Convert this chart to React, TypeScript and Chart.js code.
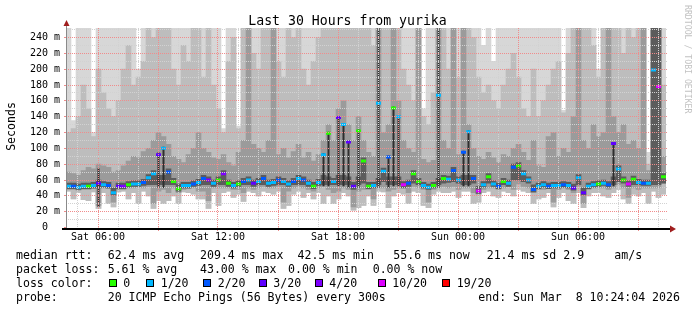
import React, { useEffect, useRef } from 'react';
import { Chart, registerables } from 'chart.js';

Chart.register(...registerables);

// ---------------- data (hours counted from Sat 00:00, 15-minute slots) ----------------
const slotStartHour = 4.4;
const slotHours = 0.25;

const medianRtt = [
  52, 52, 51, 52, 52, 53, 56, 54, 53, 44,
  52, 52, 54, 55, 55, 57, 63, 68, 92, 100,
  70, 58, 49, 53, 53, 55, 57, 62, 60, 56,
  60, 68, 56, 53, 55, 58, 60, 56, 58, 62,
  56, 57, 60, 58, 55, 58, 62, 60, 56, 52,
  57, 92, 119, 58, 139, 130, 108, 52, 122, 84,
  52, 53, 157, 71, 89, 151, 140, 54, 56, 68,
  58, 53, 51, 53, 167, 62, 61, 72, 60, 95,
  121, 62, 46, 54, 64, 55, 52, 58, 56, 76,
  78, 68, 60, 48, 52, 54, 52, 53, 53, 54,
  53, 50, 63, 44, 52, 54, 55, 56, 54, 106,
  74, 60, 55, 61, 57, 56, 56, 199, 178, 64,
];

// index into lossColors / lossLabels
const lossIdx = [
  1, 2, 1, 1, 0, 1, 3, 1, 2, 1,
  3, 4, 0, 1, 1, 2, 1, 1, 3, 1,
  2, 0, 0, 1, 1, 2, 1, 2, 4, 1,
  0, 4, 0, 1, 0, 2, 1, 3, 1, 2,
  1, 1, 2, 1, 1, 2, 1, 2, 1, 0,
  1, 1, 0, 1, 3, 1, 3, 3, 0, 0,
  0, 1, 1, 1, 2, 0, 1, 5, 2, 0,
  0, 1, 1, 0, 1, 0, 1, 2, 1, 2,
  1, 2, 5, 1, 0, 1, 2, 0, 1, 2,
  0, 1, 1, 2, 1, 1, 2, 1, 1, 2,
  1, 3, 1, 3, 1, 1, 0, 1, 2, 3,
  1, 0, 5, 0, 1, 2, 1, 1, 5, 0,
];

// smoke: slowest ping of each slot (260 = above the top of the graph)
const smokeMax = [
  260, 135, 260, 260, 260, 120, 260, 260, 260, 260,
  260, 260, 260, 260, 200, 260, 260, 260, 260, 260,
  260, 260, 260, 260, 260, 260, 260, 260, 260, 260,
  260, 125, 260, 260, 128, 260, 260, 260, 260, 260,
  260, 260, 260, 260, 260, 260, 260, 260, 260, 260,
  260, 260, 260, 260, 260, 260, 260, 260, 260, 260,
  260, 260, 260, 260, 260, 260, 260, 260, 260, 260,
  260, 150, 260, 260, 260, 260, 260, 260, 260, 260,
  260, 260, 260, 230, 260, 210, 260, 260, 260, 260,
  260, 260, 260, 260, 260, 260, 260, 260, 260, 148,
  260, 260, 260, 260, 260, 260, 200, 260, 260, 260,
  260, 260, 260, 260, 260, 260, 95, 260, 260, 260,
];

const smokeUpper2 = [
  120, 125, 140, 180, 150, 115, 200, 170, 150, 140,
  160, 200, 230, 180, 190, 210, 260, 240, 260, 260,
  260, 200, 180, 230, 210, 260, 260, 190, 260, 180,
  150, 120, 210, 240, 125, 260, 260, 220, 200, 260,
  260, 260, 210, 190, 260, 240, 260, 200, 180, 210,
  240, 260, 260, 260, 260, 260, 260, 260, 260, 260,
  260, 230, 260, 260, 260, 260, 260, 200, 180, 160,
  260, 140, 130, 170, 260, 260, 200, 260, 190, 260,
  260, 240, 190, 170, 180, 160, 150, 180, 200, 220,
  190, 150, 140, 200, 140, 160, 180, 200, 210, 145,
  220, 260, 260, 260, 260, 230, 190, 260, 260, 260,
  260, 220, 260, 240, 260, 260, 80, 260, 260, 180,
];

const smokeUpper3 = [
  70, 68, 66, 72, 76, 74, 80, 78, 76, 70,
  72, 78, 84, 90, 88, 96, 100, 110, 120, 115,
  105, 90, 86, 82, 92, 100, 120, 100, 95, 88,
  86, 92, 82, 78, 95, 110, 260, 105, 100, 95,
  110, 260, 92, 100, 88, 96, 105, 88, 95, 84,
  92, 110, 130, 110, 150, 160, 130, 110, 140, 110,
  95, 90, 260, 120, 130, 260, 160, 110, 100, 95,
  260, 86, 82, 85, 260, 110, 100, 260, 92, 260,
  130, 100, 90, 86, 95, 88, 82, 92, 90, 100,
  105, 95, 85, 110, 78, 76, 115, 120, 90, 100,
  95, 140, 260, 110, 100, 130, 115, 120, 260, 140,
  120, 130, 105, 110, 100, 260, 72, 260, 260, 90,
];

// lower edge of the darker smoke (tails under the median)
const smokeLow3 = [
  48, 48, 47, 48, 48, 49, 28, 50, 49, 32,
  48, 48, 50, 50, 51, 50, 52, 30, 46, 48,
  44, 50, 44, 48, 49, 50, 46, 46, 34, 50,
  50, 50, 50, 48, 48, 44, 50, 48, 50, 52,
  50, 50, 52, 32, 46, 50, 52, 50, 48, 46,
  50, 52, 48, 44, 46, 50, 48, 26, 46, 48,
  48, 36, 50, 50, 46, 48, 50, 50, 44, 52,
  50, 48, 32, 48, 50, 52, 50, 52, 48, 50,
  50, 44, 42, 48, 50, 50, 48, 50, 52, 48,
  55, 52, 50, 44, 48, 48, 50, 32, 48, 50,
  48, 44, 52, 30, 48, 50, 50, 50, 48, 50,
  54, 50, 38, 50, 48, 50, 50, 50, 50, 56,
];

// fastest ping of each slot
const smokeMin = [
  46, 36, 44, 35, 34, 45, 24, 44, 30, 26,
  45, 46, 36, 44, 30, 46, 40, 24, 34, 30,
  34, 40, 30, 45, 44, 42, 36, 36, 24, 44,
  28, 44, 46, 38, 42, 33, 46, 44, 40, 46,
  44, 42, 46, 24, 28, 42, 46, 38, 44, 36,
  44, 30, 40, 30, 36, 44, 40, 22, 25, 28,
  40, 28, 46, 45, 25, 40, 44, 42, 30, 46,
  44, 28, 25, 42, 46, 44, 44, 46, 38, 46,
  46, 30, 32, 44, 46, 40, 38, 46, 44, 40,
  48, 46, 44, 30, 36, 38, 44, 26, 38, 44,
  34, 30, 44, 25, 40, 44, 44, 40, 38, 44,
  48, 36, 30, 42, 40, 44, 30, 46, 38, 42,
];

// dark core hugging the median
const smokeCore = [
  56, 56, 55, 56, 56, 57, 60, 58, 57, 50,
  56, 56, 58, 59, 59, 61, 67, 72, 66, 66,
  74, 62, 55, 57, 57, 59, 61, 66, 64, 60,
  64, 72, 60, 57, 59, 62, 64, 60, 62, 66,
  60, 61, 64, 62, 59, 62, 66, 64, 60, 57,
  61, 66, 64, 62, 66, 66, 64, 57, 64, 88,
  57, 57, 62, 75, 64, 64, 64, 58, 60, 72,
  62, 57, 55, 57, 62, 66, 65, 76, 64, 66,
  66, 66, 52, 58, 68, 59, 56, 62, 60, 80,
  82, 72, 64, 54, 56, 58, 56, 57, 57, 58,
  57, 55, 67, 50, 56, 58, 59, 60, 58, 64,
  78, 64, 59, 65, 61, 60, 60, 260, 260, 68,
];

const smokeCoreLow = [
  49, 49, 48, 49, 49, 50, 50, 51, 50, 41,
  49, 49, 51, 52, 52, 53, 54, 54, 54, 54,
  54, 54, 46, 50, 50, 52, 53, 54, 54, 52,
  54, 54, 52, 50, 52, 54, 54, 52, 54, 54,
  52, 53, 54, 54, 52, 54, 54, 54, 52, 49,
  53, 54, 54, 54, 54, 54, 54, 48, 54, 56,
  49, 50, 54, 58, 54, 54, 54, 50, 52, 56,
  54, 50, 48, 50, 54, 56, 57, 58, 56, 54,
  54, 56, 43, 51, 56, 52, 49, 54, 52, 60,
  60, 58, 56, 45, 49, 51, 49, 50, 50, 51,
  50, 47, 54, 41, 49, 51, 52, 53, 51, 54,
  58, 56, 52, 54, 54, 53, 53, 54, 54, 56,
];

// thin dark spikes up to high medians
const spikeSlots = [6, 18, 19, 51, 52, 54, 55, 56, 58, 62, 64, 65, 66, 74, 79, 80, 109];
const spikeTop = [75, 95, 102, 94, 121, 141, 132, 110, 124, 260, 91, 153, 141, 260, 97, 123, 108];
const spikeBottom = [26, 50, 50, 52, 52, 52, 52, 50, 50, 50, 50, 52, 52, 50, 52, 52, 52];

const lossColors = ['#26ff00', '#00b8ff', '#0059ff', '#5e00ff', '#7e00ff', '#dd00ff', '#ff0000'];
const lossLabels = ['0', '1/20', '2/20', '3/20', '4/20', '10/20', '19/20'];

const xTickHours = [6, 12, 18, 24, 30];
const xTickLabels = ['Sat 06:00', 'Sat 12:00', 'Sat 18:00', 'Sun 00:00', 'Sun 06:00'];
const yTickValues = [0, 20, 40, 60, 80, 100, 120, 140, 160, 180, 200, 220, 240];
const yTickLabels = ['0  ', '20 m', '40 m', '60 m', '80 m', '100 m', '120 m', '140 m', '160 m', '180 m', '200 m', '220 m', '240 m'];

const titleText = 'Last 30 Hours from yurika';
const yTitle = 'Seconds';
const watermark = 'RRDTOOL / TOBI OETIKER';
const rttHead = 'median rtt:';
const rttStats = ['62.4 ms avg', '209.4 ms max', '42.5 ms min', '55.6 ms now', '21.4 ms sd', '2.9', 'am/s'];
const lossHead = 'packet loss:';
const lossStats = ['5.61 % avg', '43.00 % max', '0.00 % min', '0.00 % now'];
const colorHead = 'loss color:';
const probeHead = 'probe:';
const probeText = '20 ICMP Echo Pings (56 Bytes) every 300s';
const endText = 'end: Sun Mar  8 10:24:04 2026';

// ---------------- layout / style ----------------
const FONT = '"DejaVu Sans Mono", monospace';
const W = 697;
const H = 310;
const rttStatX = [107.7, 200, 297.5, 393.3, 486.7, 563.3, 614.3];
const lossStatX = [107.7, 200, 288, 372.7];
const swatchX = [109, 146, 203, 259, 315, 378, 442];
const swatchLabelX = [123.3, 160.7, 217.7, 273.3, 329.3, 392.3, 456.7];
const rowBase = [259.3, 273.0, 286.8, 300.6];
const MAJOR = 'rgb(240, 140, 140)';
const MINOR = 'rgb(210, 210, 210)';

const decorPlugin = {
  id: 'rrdDecor',
  afterDatasetsDraw(chart: any) {
    const { ctx, chartArea: a } = chart;
    const xs = chart.scales.x;
    const ys = chart.scales.y;
    ctx.save();
    ctx.lineWidth = 1;
    ctx.setLineDash([1, 1]);
    xs.ticks.forEach((t: any) => {
      const p = Math.floor(xs.getPixelForValue(t.value)) + 0.5;
      ctx.strokeStyle = t.value % 3 === 0 ? MAJOR : MINOR;
      ctx.beginPath();
      ctx.moveTo(p, a.top);
      ctx.lineTo(p, a.bottom);
      ctx.stroke();
    });
    ys.ticks.forEach((t: any) => {
      if (t.value === 0) return;
      const p = Math.floor(ys.getPixelForValue(t.value)) + 0.5;
      ctx.strokeStyle = t.value % 20 === 0 ? MAJOR : MINOR;
      ctx.beginPath();
      ctx.moveTo(a.left, p);
      ctx.lineTo(a.right + 2, p);
      ctx.stroke();
    });
    ctx.setLineDash([]);
    ctx.strokeStyle = MAJOR;
    xs.ticks.forEach((t: any) => {
      if (t.value % 3 !== 0) return;
      const p = Math.floor(xs.getPixelForValue(t.value)) + 0.5;
      ctx.beginPath();
      ctx.moveTo(p, a.bottom);
      ctx.lineTo(p, a.bottom + 3.5);
      ctx.stroke();
    });
    ys.ticks.forEach((t: any) => {
      if (t.value % 20 !== 0) return;
      const p = Math.floor(ys.getPixelForValue(t.value)) + 0.5;
      ctx.beginPath();
      ctx.moveTo(a.left - 2, p);
      ctx.lineTo(a.left, p);
      ctx.stroke();
    });
    ctx.fillStyle = '#8a8a8a';
    ctx.fillRect(a.left, a.top - 4, 1, a.bottom - a.top + 5);
    ctx.fillStyle = '#000';
    ctx.fillRect(a.left - 4, Math.round(a.bottom), a.right - a.left + 8, 2);
    ctx.fillStyle = '#a01e1e';
    ctx.beginPath();
    ctx.moveTo(a.left + 0.5, a.top - 8);
    ctx.lineTo(a.left - 2.5, a.top - 2);
    ctx.lineTo(a.left + 3.5, a.top - 2);
    ctx.closePath();
    ctx.fill();
    const by = Math.round(a.bottom) + 1;
    ctx.beginPath();
    ctx.moveTo(a.right + 10, by);
    ctx.lineTo(a.right + 4, by - 3.5);
    ctx.lineTo(a.right + 4, by + 3.5);
    ctx.closePath();
    ctx.fill();
    ctx.restore();
  },
  afterDraw(chart: any) {
    const { ctx } = chart;
    ctx.save();
    ctx.fillStyle = '#000';
    ctx.textBaseline = 'alphabetic';
    ctx.font = `13.2px ${FONT}`;
    ctx.textAlign = 'center';
    ctx.fillText(titleText, 347.5, 24.5);
    ctx.font = `11.55px ${FONT}`;
    ctx.save();
    ctx.translate(14.5, 126.5);
    ctx.rotate(-Math.PI / 2);
    ctx.fillText(yTitle, 0, 0);
    ctx.restore();
    ctx.save();
    ctx.fillStyle = '#c2c2c2';
    ctx.font = `8.2px ${FONT}`;
    ctx.textAlign = 'left';
    ctx.translate(684.5, 5);
    ctx.rotate(Math.PI / 2);
    ctx.fillText(watermark, 0, 0);
    ctx.restore();
    ctx.font = `11.55px ${FONT}`;
    ctx.textAlign = 'left';
    ctx.fillText(rttHead, 16, rowBase[0]);
    rttStats.forEach((t, i) => ctx.fillText(t, rttStatX[i], rowBase[0]));
    ctx.fillText(lossHead, 16, rowBase[1]);
    lossStats.forEach((t, i) => ctx.fillText(t, lossStatX[i], rowBase[1]));
    ctx.fillText(colorHead, 16, rowBase[2]);
    lossLabels.forEach((t, i) => {
      ctx.fillStyle = lossColors[i];
      ctx.fillRect(swatchX[i], 279, 8, 8);
      ctx.strokeStyle = '#000';
      ctx.lineWidth = 1;
      ctx.strokeRect(swatchX[i] + 0.5, 279.5, 7, 7);
      ctx.fillStyle = '#000';
      ctx.fillText(t, swatchLabelX[i], rowBase[2]);
    });
    ctx.fillText(probeHead, 16, rowBase[3]);
    ctx.fillText(probeText, 107.7, rowBase[3]);
    ctx.fillText(endText, 478.3, rowBase[3]);
    ctx.restore();
  },
};

export default function App() {
  const ref = useRef<HTMLCanvasElement | null>(null);

  useEffect(() => {
    const canvas = ref.current;
    if (!canvas) return;
    const xs = medianRtt.map((_, i) => slotStartHour + slotHours * (i + 0.5));
    const band = (lo: number[], hi: number[]) => xs.map((x, i) => ({ x, y: [lo[i], hi[i]] }));
    const xMax = slotStartHour + slotHours * medianRtt.length;
    const hourly: number[] = [];
    for (let h = Math.ceil(slotStartHour); h <= xMax; h++) hourly.push(h);
    const yGrid: number[] = [];
    for (let v = 0; v <= 250; v += 10) yGrid.push(v);

    const barBase = { type: 'bar', grouped: false, barPercentage: 1, categoryPercentage: 1, borderWidth: 0 };

    const chart = new Chart(canvas, {
      type: 'bar',
      data: {
        datasets: [
          {
            type: 'line',
            data: xs.map((x, i) => ({ x, y: medianRtt[i] })),
            showLine: false,
            pointStyle: 'line',
            pointRadius: 2.5,
            pointBorderWidth: 3,
            pointBorderColor: lossIdx.map((k) => lossColors[k]),
            pointBackgroundColor: lossIdx.map((k) => lossColors[k]),
            order: 0,
          },
          {
            ...barBase,
            barPercentage: 0.4,
            data: spikeSlots.map((s, k) => ({ x: xs[s], y: [spikeBottom[k], spikeTop[k]] })),
            backgroundColor: '#2e2e2e',
            order: 1,
          },
          { ...barBase, data: band(smokeCoreLow, smokeCore), backgroundColor: '#5c5c5c', order: 2 },
          { ...barBase, data: band(smokeLow3, smokeUpper3), backgroundColor: '#9b9b9b', order: 3 },
          { ...barBase, data: band(smokeMin, smokeUpper2), backgroundColor: '#bdbdbd', order: 4 },
          { ...barBase, data: band(smokeMin, smokeMax), backgroundColor: '#d7d7d7', order: 5 },
        ] as any,
      },
      options: {
        responsive: false,
        animation: false,
        devicePixelRatio: 1,
        events: [],
        layout: { padding: { left: 10, right: 31, top: 28, bottom: 62.5 } },
        plugins: { legend: { display: false }, tooltip: { enabled: false }, title: { display: false } },
        scales: {
          x: {
            type: 'linear',
            min: slotStartHour,
            max: xMax,
            offset: false,
            afterBuildTicks: (s: any) => { s.ticks = hourly.map((v) => ({ value: v })); },
            afterFit: (s: any) => { s.height = 20; },
            grid: { display: false, offset: false, drawTicks: true, tickLength: 3 },
            border: { display: false },
            ticks: {
              autoSkip: false,
              maxRotation: 0,
              minRotation: 0,
              padding: 1,
              color: '#000',
              font: { family: FONT, size: 10 },
              callback: (v: any) => {
                const k = xTickHours.indexOf(Number(v));
                return k >= 0 ? xTickLabels[k] : '';
              },
            },
          },
          y: {
            type: 'linear',
            min: 0,
            max: 252,
            afterBuildTicks: (s: any) => { s.ticks = yGrid.map((v) => ({ value: v })); },
            afterFit: (s: any) => { s.width = 56; },
            grid: { display: false, drawTicks: true, tickLength: 3 },
            border: { display: false },
            ticks: {
              autoSkip: false,
              padding: 3,
              color: '#000',
              font: { family: FONT, size: 10 },
              callback: (v: any) => {
                const k = yTickValues.indexOf(Number(v));
                return k >= 0 ? yTickLabels[k] : '';
              },
            },
          },
        },
      } as any,
      plugins: [decorPlugin],
    });
    return () => chart.destroy();
  }, []);

  return (
    <div style={{ position: 'fixed', left: 0, top: 0, width: W, height: H, background: '#fff' }}>
      <canvas ref={ref} width={W} height={H} style={{ display: 'block' }} />
    </div>
  );
}
